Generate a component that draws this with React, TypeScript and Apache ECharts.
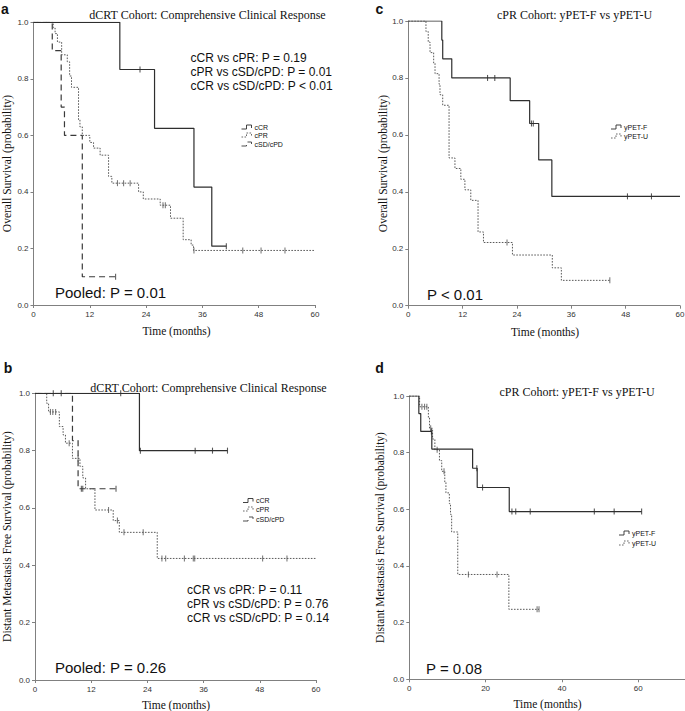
import React, { useEffect, useRef } from "react";
import * as echarts from "echarts";

type Pt = [number, number];

// ---------- Panel a: Overall survival, dCRT cohort ----------
const aCCR: Pt[] = [[0, 1], [18.4, 0.833], [25.8, 0.625], [34.2, 0.417], [38.0, 0.208], [41.1, 0.208]];
const aCCRCens = [22.7, 41.1];
const aCPR: Pt[] = [
  [0, 1], [4.2, 0.98], [4.6, 0.96], [5.1, 0.93], [6.0, 0.885], [7.2, 0.86], [7.7, 0.81], [8.1, 0.77],
  [9.6, 0.655], [9.9, 0.63], [10.4, 0.6], [12.0, 0.575], [12.8, 0.555], [14.2, 0.53], [16.0, 0.455],
  [16.7, 0.431], [22.4, 0.4], [23.4, 0.375], [27.0, 0.353], [29.2, 0.307], [31.9, 0.231], [33.6, 0.212],
  [34.1, 0.193], [60, 0.193],
];
const aCPRCens = [17.9, 19.2, 20.6, 27.6, 28.1, 34.2, 44.6, 48.5, 53.6];
const aCSD: Pt[] = [[0, 1], [4.0, 0.9], [5.9, 0.7], [6.6, 0.6], [10.4, 0.1], [17.5, 0.1]];
const aCSDCens = [17.5];

// ---------- Panel c: Overall survival, cPR cohort ----------
const cF: Pt[] = [[0, 1], [7.4, 0.933], [7.6, 0.867], [9.6, 0.8], [22.5, 0.72], [26.8, 0.64], [28.8, 0.512], [31.7, 0.384], [60, 0.384]];
const cFCens = [17.5, 19.1, 27.2, 27.6, 48.4, 53.7];
const cU: Pt[] = [
  [0, 1], [3.9, 0.963], [4.4, 0.926], [4.8, 0.889], [5.6, 0.852], [5.9, 0.815], [6.8, 0.778], [7.0, 0.741],
  [7.6, 0.704], [9.0, 0.519], [10.3, 0.482], [11.6, 0.444], [12.5, 0.407], [13.8, 0.37], [15.4, 0.259],
  [16.6, 0.222], [23.0, 0.178], [31.8, 0.133], [33.8, 0.089], [44.5, 0.089],
];
const cUCens = [21.8, 44.5];

// ---------- Panel b: Distant metastasis free survival, dCRT cohort ----------
const bCCR: Pt[] = [[0, 1], [22.3, 0.8], [41.1, 0.8]];
const bCCRCens = [3.9, 5.6, 18.3, 22.5, 34.2, 37.9, 41.1];
const bCPR: Pt[] = [
  [0, 1], [2.5, 0.965], [2.9, 0.935], [5.2, 0.884], [6.0, 0.855], [6.5, 0.826], [8.0, 0.773], [9.6, 0.745],
  [10.2, 0.705], [10.8, 0.667], [12.8, 0.593], [16.7, 0.556], [18.0, 0.515], [26.1, 0.424], [60, 0.424],
];
const bCPRCens = [3.3, 3.8, 4.4, 7.3, 9.2, 15.7, 17.6, 19.0, 23.1, 27.1, 27.9, 31.9, 33.8, 34.1, 48.6, 53.8];
const bCSD: Pt[] = [[0, 1], [8.0, 0.835], [9.2, 0.667], [17.3, 0.667]];
const bCSDCens = [9.9, 10.2, 17.3];

// ---------- Panel d: Distant metastasis free survival, cPR cohort ----------
const dF: Pt[] = [[0, 1], [2.5, 0.938], [3.0, 0.875], [5.9, 0.8125], [16.6, 0.745], [17.8, 0.677], [26.2, 0.592], [60.9, 0.592]];
const dFCens = [5.8, 17.7, 19.2, 26.9, 27.9, 31.7, 48.5, 53.7, 60.9];
const dU: Pt[] = [
  [0, 1], [2.7, 0.962], [5.0, 0.924], [5.3, 0.886], [6.1, 0.848], [6.7, 0.81], [7.9, 0.772], [8.5, 0.734],
  [9.3, 0.696], [9.6, 0.658], [10.5, 0.62], [10.8, 0.582], [11.1, 0.52], [12.7, 0.37], [26.1, 0.247], [34.0, 0.247],
];
const dUCens = [3.3, 4.0, 4.6, 5.6, 7.3, 9.1, 15.5, 23.0, 33.5, 34.0];

// Axis settings
const xMaxes = [60, 60, 60, 80];
const xIntervals = [12, 12, 12, 20];
const yTicks = [0, 0.2, 0.4, 0.6, 0.8, 1.0];

const SERIF = "'Liberation Serif', 'Times New Roman', serif";
const SANS = "'Liberation Sans', Arial, Helvetica, sans-serif";

const SOLID = { color: "#2e2e2e", width: 1.2, type: "solid" as any };
const DOTTED = { color: "#5a5a5a", width: 1, type: [1.6, 1.4] as any };
const DASHED = { color: "#3a3a3a", width: 1.2, type: [6, 4] as any };

function survAt(curve: Pt[], t: number): number {
  let v = curve[0][1];
  for (const p of curve) {
    if (p[0] <= t) v = p[1];
  }
  return v;
}

function km(idx: number, data: Pt[], cens: number[], st: any) {
  return [
    {
      type: "line",
      xAxisIndex: idx,
      yAxisIndex: idx,
      data,
      step: "end",
      symbol: "none",
      silent: true,
      lineStyle: { color: st.color, width: st.width, type: st.type },
    },
    {
      type: "scatter",
      xAxisIndex: idx,
      yAxisIndex: idx,
      data: cens.map((t) => [t, survAt(data, t)]),
      symbol: "rect",
      symbolSize: [1.1, 6],
      silent: true,
      itemStyle: { color: st.color },
    },
  ];
}

function txt(x: number, y: number, text: string, font: string, align = "left", extra: any = {}) {
  return {
    type: "text",
    x,
    y,
    silent: true,
    ...extra,
    style: {
      text,
      font,
      fill: "#111",
      align,
      textAlign: align,
      verticalAlign: "middle",
      textVerticalAlign: "middle",
    },
  };
}

function legendItem(x: number, y: number, label: string, st: any) {
  return [
    {
      type: "polyline",
      silent: true,
      shape: { points: [[x, y + 2], [x + 5, y + 2], [x + 5, y - 2], [x + 10, y - 2], [x + 10, y + 1]] },
      style: { stroke: st.color, lineWidth: 0.9, fill: "none", lineDash: Array.isArray(st.type) ? st.type : null },
    },
    txt(x + 13, y, label, `7px ${SANS}`),
  ];
}

export default function App() {
  const ref = useRef<HTMLDivElement>(null);

  useEffect(() => {
    if (!ref.current) return;
    const chart = echarts.init(ref.current, undefined, { renderer: "svg" });

    const grids = [
      { left: 33.5, top: 22.3, width: 281.5, height: 282.7 },
      { left: 408.3, top: 21, width: 271.7, height: 284.7 },
      { left: 35, top: 393.3, width: 281, height: 286.7 },
      { left: 409.3, top: 396, width: 305.2, height: 283.3 },
    ].map((g) => ({ ...g, containLabel: false, outerBoundsMode: "none" }));

    const axisLine = { show: true, lineStyle: { color: "#808080", width: 1 } };
    const axisTick = { show: true, length: 3, lineStyle: { color: "#808080", width: 1 } };
    const labelStyle = { color: "#333", fontSize: 8, fontFamily: SANS };

    const xAxis = grids.map((_, i) => ({
      type: "value",
      gridIndex: i,
      min: 0,
      max: xMaxes[i],
      interval: xIntervals[i],
      axisLine,
      axisTick,
      splitLine: { show: false },
      axisLabel: { ...labelStyle, margin: 5, showMaxLabel: i !== 3 },
    }));
    const yAxis = grids.map((_, i) => ({
      type: "value",
      gridIndex: i,
      min: yTicks[0],
      max: yTicks[yTicks.length - 1],
      interval: 0.2,
      axisLine,
      axisTick,
      splitLine: { show: false },
      axisLabel: { ...labelStyle, margin: 5, formatter: (v: number) => v.toFixed(1) },
    }));

    const series = [
      ...km(0, aCSD, aCSDCens, DASHED),
      ...km(0, aCPR, aCPRCens, DOTTED),
      ...km(0, aCCR, aCCRCens, SOLID),
      ...km(1, cU, cUCens, DOTTED),
      ...km(1, cF, cFCens, SOLID),
      ...km(2, bCSD, bCSDCens, DASHED),
      ...km(2, bCPR, bCPRCens, DOTTED),
      ...km(2, bCCR, bCCRCens, SOLID),
      ...km(3, dU, dUCens, DOTTED),
      ...km(3, dF, dFCens, SOLID),
    ];

    const titleFont = `12px ${SERIF}`;
    const axisNameFont = `11.5px ${SERIF}`;
    const pFont = `12px ${SANS}`;
    const bigFont = `15px ${SANS}`;
    const letterFont = `bold 14px ${SANS}`;

    const graphic: any[] = [
      // panel letters
      txt(5, 8.5, "a", letterFont, "center"),
      txt(379.5, 8.5, "c", letterFont, "center"),
      txt(8, 367.5, "b", letterFont, "center"),
      txt(379.5, 367.5, "d", letterFont, "center"),
      // titles
      txt(207.5, 15, "dCRT Cohort: Comprehensive Clinical Response", titleFont, "center"),
      txt(574.5, 15, "cPR Cohort: yPET-F vs yPET-U", titleFont, "center"),
      txt(208.5, 388, "dCRT Cohort: Comprehensive Clinical Response", titleFont, "center"),
      txt(577, 392, "cPR Cohort: yPET-F vs yPET-U", titleFont, "center"),
      // x axis names
      txt(176.5, 330.5, "Time (months)", axisNameFont, "center"),
      txt(545, 331.5, "Time (months)", axisNameFont, "center"),
      txt(176, 705, "Time (months)", axisNameFont, "center"),
      txt(547.5, 703.5, "Time (months)", axisNameFont, "center"),
      // y axis names
      txt(6.5, 163.5, "Overall Survival (probability)", axisNameFont, "center", { rotation: Math.PI / 2 }),
      txt(383, 163.5, "Overall Survival (probability)", axisNameFont, "center", { rotation: Math.PI / 2 }),
      txt(6.5, 536.5, "Distant Metastasis Free Survival (probability)", axisNameFont, "center", { rotation: Math.PI / 2 }),
      txt(380, 537.5, "Distant Metastasis Free Survival (probability)", axisNameFont, "center", { rotation: Math.PI / 2 }),
      // p-values panel a
      txt(190.5, 58, "cCR vs cPR: P = 0.19", pFont),
      txt(190.5, 71.5, "cPR vs cSD/cPD: P = 0.01", pFont),
      txt(190.5, 85.5, "cCR vs cSD/cPD: P < 0.01", pFont),
      txt(55, 292, "Pooled: P = 0.01", bigFont),
      // panel c
      txt(427, 294, "P < 0.01", bigFont),
      // panel b
      txt(187, 590, "cCR vs cPR: P = 0.11", pFont),
      txt(187, 603.5, "cPR vs cSD/cPD: P = 0.76", pFont),
      txt(187, 617.5, "cCR vs cSD/cPD: P = 0.14", pFont),
      txt(55, 667, "Pooled: P = 0.26", bigFont),
      // panel d
      txt(426, 668, "P = 0.08", bigFont),
      // legends
      ...legendItem(241.5, 127, "cCR", SOLID),
      ...legendItem(241.5, 135, "cPR", DOTTED),
      ...legendItem(241.5, 144, "cSD/cPD", DASHED),
      ...legendItem(611, 127, "yPET-F", SOLID),
      ...legendItem(611, 136, "yPET-U", DOTTED),
      ...legendItem(243, 500.5, "cCR", SOLID),
      ...legendItem(243, 509, "cPR", DOTTED),
      ...legendItem(243, 519, "cSD/cPD", DASHED),
      ...legendItem(619, 533, "yPET-F", SOLID),
      ...legendItem(619, 543, "yPET-U", DOTTED),
    ];

    chart.setOption({
      animation: false,
      backgroundColor: "#ffffff",
      grid: grids,
      xAxis,
      yAxis,
      series,
      graphic,
    } as any);

    return () => chart.dispose();
  }, []);

  return (
    <div
      ref={ref}
      style={{ position: "absolute", left: 0, top: 0, width: 685, height: 711, background: "#fff" }}
    />
  );
}
